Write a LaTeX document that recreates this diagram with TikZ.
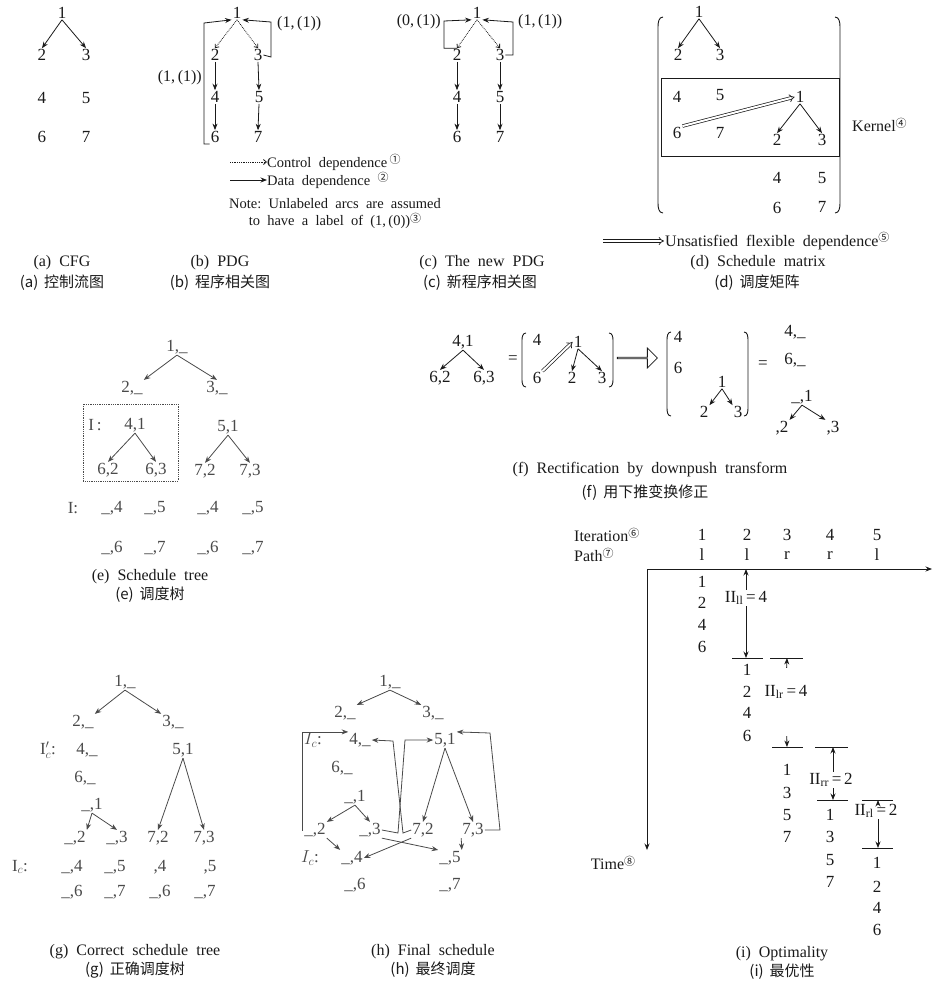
\documentclass[tikz,border=0pt]{standalone}
\usepackage{fontspec}
\setmainfont{Liberation Serif}
\newfontfamily\cjk{Noto Sans CJK SC}
\usepackage{tikz}
\usetikzlibrary{arrows.meta, positioning, shapes.arrows, calc}
\definecolor{ink}{HTML}{1A1A1A}
\definecolor{greyink}{HTML}{4A4A4A}
\newcommand{\cnum}[1]{\raisebox{0.6ex}{\fontsize{11}{11}\selectfont\cjk #1}}

\begin{document}
\begin{tikzpicture}[
    x=1pt, y=-1pt,
    num/.style={
        font=\fontsize{17}{19}\selectfont, text=ink, inner sep=1pt
    },
    gnum/.style={
        num, text=greyink
    },
    txt/.style={
        font=\fontsize{16}{18}\selectfont, text=ink, inner sep=1pt, align=center
    },
    legtxt/.style={
        font=\fontsize{14.5}{16}\selectfont, text=ink, inner sep=0pt, align=center
    },
    captxt/.style={
        font=\fontsize{16}{18}\selectfont, text=ink, inner sep=1pt
    },
    capzh/.style={
        font=\fontsize{15}{18}\selectfont\cjk, text=ink, inner sep=1pt
    },
    dep/.style={
        -{Stealth[length=6.5pt, width=5pt]}, line width=0.8pt, draw=ink
    },
    gdep/.style={
        dep, draw=greyink
    },
    ctl/.style={
        -{Straight Barb[length=3pt, width=5pt]}, densely dotted, line width=0.8pt, draw=ink
    },
    flex/.style={
        double=white, double distance=2pt, line width=0.7pt, draw=ink, -{Implies}
    },
    brk/.style={
        draw=ink, line width=0.9pt
    },
    startbar/.style={
        draw=ink, line width=1pt
    }
]
\fill[white] (0,0) rectangle (936,994);
\useasboundingbox (0,0) rectangle (936,994);

% (a) CFG
\node[num] (a1) at (62,13) {1};
\node[num] (a2) at (42,55) {2};
\node[num] (a3) at (86,55) {3};
\node[num] (a4) at (42,98) {4};
\node[num] (a5) at (86,98) {5};
\node[num] (a6) at (42,137) {6};
\node[num] (a7) at (86,137) {7};
\draw[dep] (a1.south) -- (a2.north);
\draw[dep] (a1.south) -- (a3.north);

% (b) PDG
\node[num] (b1) at (237,13) {1};
\node[num] (b2) at (215,55) {2};
\node[num] (b3) at (258,55) {3};
\node[num] (b4) at (215,97) {4};
\node[num] (b5) at (259,97) {5};
\node[num] (b6) at (215,137) {6};
\node[num] (b7) at (258,137) {7};
\draw[ctl] (b1.south) -- (b2.north);
\draw[ctl] (b1.south) -- (b3.north);
\draw[dep] (b2.south) -- (b4.north);
\draw[dep] (b4.south) -- (b6.north);
\draw[dep] (b3.south) -- (b5.north);
\draw[dep] (b5.south) -- (b7.north);
\draw[dep] (b6.south west) -- (204,144) -- (204,23) -- (b1.south west);
\draw[dep] (b3.east) -- (271,57) -- (271,22) -- (b1.south east);
\node[txt, anchor=east] (bloopl) at (203,78) {(1,\,(1))};
\node[txt, anchor=west] (bloopr) at (276,24) {(1,\,(1))};

% legend
\coordinate (lctl0) at (230,162);
\coordinate (ldat0) at (230,180);
\node[legtxt, anchor=west] (lctl) at (267,162) {Control\enspace dependence\,\cnum{①}};
\node[legtxt, anchor=west] (ldat) at (267,180) {Data\enspace dependence\enspace\cnum{②}};
\draw[ctl] (lctl0) -- (lctl.west);
\draw[dep] (ldat0) -- (ldat.west);
\node[legtxt, font=\fontsize{14.5}{17}\selectfont] (note) at (335,214) {Note:\enspace Unlabeled\enspace arcs\enspace are\enspace assumed\\to\enspace have\enspace a\enspace label\enspace of\enspace (1,\,(0))\cnum{③}};

% (c) new PDG
\node[num] (c1) at (477,13) {1};
\node[num] (c2) at (457,55) {2};
\node[num] (c3) at (500,55) {3};
\node[num] (c4) at (457,97) {4};
\node[num] (c5) at (500,97) {5};
\node[num] (c6) at (457,137) {6};
\node[num] (c7) at (500,137) {7};
\draw[ctl] (c1.south) -- (c2.north);
\draw[ctl] (c1.south) -- (c3.north);
\draw[dep] (c2.south) -- (c4.north);
\draw[dep] (c4.south) -- (c6.north);
\draw[dep] (c3.south) -- (c5.north);
\draw[dep] (c5.south) -- (c7.north);
\draw[dep] (c2.north) -| (444,21) -- (c1.south west);
\draw[dep] (c3.east) -| (513,22) -- (c1.south east);
\node[txt, anchor=east] (cloopl) at (442,22) {(0,\,(1))};
\node[txt, anchor=west] (cloopr) at (517,22) {(1,\,(1))};

% (d) schedule matrix
\draw[brk] (663,17) to[out=180, in=90] (658,27) -- (658,203) to[out=-90, in=180] (663,213);
\draw[brk] (835,17) to[out=0, in=90] (840,27) -- (840,203) to[out=-90, in=0] (835,213);
\node[num] (d1) at (699,12) {1};
\node[num] (d2) at (678,55) {2};
\node[num] (d3) at (720,55) {3};
\draw[dep] (d1.south) -- (d2.north);
\draw[dep] (d1.south) -- (d3.north);
\node[draw=ink, line width=0.9pt, minimum width=178pt, minimum height=78pt, inner sep=0pt] (kernel) at (750,117) {};
\node[txt, anchor=west] (kernellbl) at (851,125) {Kernel\cnum{④}};
\node[num] (d4) at (677,97) {4};
\node[num] (d5) at (720,95) {5};
\node[num] (d6) at (677,133) {6};
\node[num] (d7) at (720,133) {7};
\node[num] (dk1) at (800,97) {1};
\node[num] (dk2) at (777,140) {2};
\node[num] (dk3) at (822,140) {3};
\draw[dep] (dk1.south) -- (dk2.north);
\draw[dep] (dk1.south) -- (dk3.north);
\draw[flex] (d6.north east) -- (dk1.west);
\node[num] (dl4) at (777,178) {4};
\node[num] (dl5) at (822,178) {5};
\node[num] (dl6) at (777,208) {6};
\node[num] (dl7) at (822,207) {7};
\coordinate (lflex0) at (603,241);
\node[txt, anchor=west] (lflex) at (664,241) {Unsatisfied\enspace flexible\enspace dependence\cnum{⑤}};
\draw[flex] (lflex0) -- (lflex.west);

% captions, first row
\node[captxt] (capa) at (62,263) {(a)\enspace CFG};
\node[capzh] (capazh) at (62,283) {(a)\, 控制流图};
\node[captxt] (capb) at (220,263) {(b)\enspace PDG};
\node[capzh] (capbzh) at (220,283) {(b)\, 程序相关图};
\node[captxt] (capc) at (482,263) {(c)\enspace The\enspace new\enspace PDG};
\node[capzh] (capczh) at (480,283) {(c)\, 新程序相关图};
\node[captxt] (capd) at (758,263) {(d)\enspace Schedule\enspace matrix};
\node[capzh] (capdzh) at (757,283) {(d)\, 调度矩阵};

% (e) schedule tree
\node[gnum] (e1) at (177,347) {1,\_};
\node[gnum] (e2) at (132,388) {2,\_};
\node[gnum] (e3) at (217,388) {3,\_};
\draw[greyink, densely dotted, line width=0.8pt] (83,404) rectangle (178,481);
\node[gnum] (eI) at (95,425) {I\,:};
\node[gnum] (e41) at (135,425) {4,1};
\node[gnum] (e51) at (228,427) {5,1};
\node[gnum] (e62) at (108,470) {6,2};
\node[gnum] (e63) at (156,470) {6,3};
\node[gnum] (e72) at (205,471) {7,2};
\node[gnum] (e73) at (250,471) {7,3};
\draw[gdep] (e1.south) -- (e2.north east);
\draw[gdep] (e1.south) -- (e3.north);
\draw[gdep] (e41.south) -- (e62.north);
\draw[gdep] (e41.south) -- (e63.north);
\draw[gdep] (e51.south) -- (e72.north);
\draw[gdep] (e51.south) -- (e73.north);
\node[gnum] (eIrow) at (73,508) {I:};
\node[gnum] (e4a) at (112,508) {\_,4};
\node[gnum] (e5a) at (155,508) {\_,5};
\node[gnum] (e4b) at (208,508) {\_,4};
\node[gnum] (e5b) at (253,508) {\_,5};
\node[gnum] (e6a) at (112,548) {\_,6};
\node[gnum] (e7a) at (155,548) {\_,7};
\node[gnum] (e6b) at (208,548) {\_,6};
\node[gnum] (e7b) at (253,548) {\_,7};
\node[captxt] (cape) at (150,577) {(e)\enspace Schedule\enspace tree};
\node[capzh] (capezh) at (150,595) {(e)\, 调度树};

% (f) downpush
\node[num] (f41) at (463,342) {4,1};
\node[num] (f62) at (440,378) {6,2};
\node[num] (f63) at (484,378) {6,3};
\draw[dep] (f41.south) -- (f62.north);
\draw[dep] (f41.south) -- (f63.north);
\node[num] (feq1) at (513,360) {=};
\draw[brk] (526,333) to[out=180, in=90] (522,340) -- (522,380) to[out=-90, in=180] (526,387);
\draw[brk] (609,333) to[out=0, in=90] (613,340) -- (613,380) to[out=-90, in=0] (609,387);
\node[num] (fm4) at (537,340) {4};
\node[num] (fm1) at (578,342) {1};
\node[num] (fm6) at (537,378) {6};
\node[num] (fm2) at (572,378) {2};
\node[num] (fm3) at (602,378) {3};
\draw[dep] (fm1.south) -- (fm2.north);
\draw[dep] (fm1.south) -- (fm3.north);
\draw[flex] (fm6.north east) -- (fm1.west);
\node[single arrow, draw=ink, line width=0.8pt, minimum width=20pt, minimum height=40pt,
      single arrow head extend=5pt, inner sep=0pt] (push) at (637,358) {};
\draw[brk] (671,332) to[out=180, in=90] (667,340) -- (667,408) to[out=-90, in=180] (671,416);
\draw[brk] (744,332) to[out=0, in=90] (748,340) -- (748,408) to[out=-90, in=0] (744,416);
\node[num] (fn4) at (678,337) {4};
\node[num] (fn6) at (678,368) {6};
\node[num] (fn1) at (722,382) {1};
\node[num] (fn2) at (704,412) {2};
\node[num] (fn3) at (738,412) {3};
\draw[dep] (fn1.south) -- (fn2.north east);
\draw[dep] (fn1.south) -- (fn3.north west);
\node[num] (feq2) at (763,365) {=};
\node[num] (fr4) at (795,332) {4,\_};
\node[num] (fr6) at (795,360) {6,\_};
\node[num] (fr1) at (802,397) {\_,1};
\node[num] (fr2) at (782,428) {,2};
\node[num] (fr3) at (833,428) {,3};
\draw[dep] (fr1.south) -- (fr2.north east);
\draw[dep] (fr1.south) -- (fr3.north west);
\node[captxt] (capf) at (650,470) {(f)\enspace Rectification\enspace by\enspace downpush\enspace transform};
\node[capzh] (capfzh) at (645,493) {(f)\, 用下推变换修正};

% (i) optimality
\node[txt, anchor=west] (iter) at (573,535) {Iteration\cnum{⑥}};
\node[txt, anchor=west] (path) at (573,555) {Path\cnum{⑦}};
\node[num] (it1) at (702,535) {1};
\node[num] (it2) at (747,535) {2};
\node[num] (it3) at (787,535) {3};
\node[num] (it4) at (830,535) {4};
\node[num] (it5) at (877,535) {5};
\node[num] (pt1) at (702,555) {l};
\node[num] (pt2) at (747,555) {l};
\node[num] (pt3) at (787,555) {r};
\node[num] (pt4) at (830,555) {r};
\node[num] (pt5) at (877,555) {l};
\coordinate (orig) at (647,569);
\coordinate (xend) at (932,569);
\coordinate (yend) at (647,850);
\draw[dep] (orig) -- (xend);
\draw[dep] (orig) -- (yend);
\node[txt] (time) at (613,863) {Time\cnum{⑧}};
% iteration 1
\node[num] (i11) at (702,582) {1};
\node[num] (i12) at (702,603) {2};
\node[num] (i14) at (702,625) {4};
\node[num] (i16) at (702,647) {6};
% iteration 2
\node[num] (i21) at (747,670) {1};
\node[num] (i22) at (747,692) {2};
\node[num] (i24) at (747,713) {4};
\node[num] (i26) at (747,736) {6};
% iteration 3
\node[num] (i31) at (787,770) {1};
\node[num] (i33) at (787,793) {3};
\node[num] (i35) at (787,815) {5};
\node[num] (i37) at (787,837) {7};
% iteration 4
\node[num] (i41) at (830,815) {1};
\node[num] (i43) at (830,837) {3};
\node[num] (i45) at (830,860) {5};
\node[num] (i47) at (830,882) {7};
% iteration 5
\node[num] (i51) at (877,863) {1};
\node[num] (i52) at (877,887) {2};
\node[num] (i54) at (877,908) {4};
\node[num] (i56) at (877,930) {6};
% start lines
\draw[startbar] (732,658) -- (763,658);
\draw[startbar] (770,658) -- (803,658);
\draw[startbar] (772,747) -- (803,747);
\draw[startbar] (815,747) -- (848,747);
\draw[startbar] (817,800) -- (848,800);
\draw[startbar] (862,800) -- (893,800);
\draw[startbar] (862,848) -- (893,848);
\coordinate (s1) at (746,658);
\coordinate (s2) at (787,658);
\coordinate (s3) at (787,747);
\coordinate (s4) at (833,747);
\coordinate (s5) at (833,800);
\coordinate (s6) at (878,800);
\coordinate (s7) at (878,848);
\node[num] (iill) at (746,598) {II$_{\mathrm{ll}}$\,=\,4};
\node[num] (iilr) at (786,692) {II$_{\mathrm{lr}}$\,=\,4};
\node[num] (iirr) at (831,780) {II$_{\mathrm{rr}}$\,=\,2};
\node[num] (iirl) at (876,811) {II$_{\mathrm{rl}}$\,=\,2};
\draw[dep] (iill.north) -- (iill.north |- orig);
\draw[dep] (iill.south) -- (s1);
\draw[dep, shorten <=16pt] (iilr.north) -- (s2);
\draw[dep, shorten <=36pt] (iilr.south) -- (s3);
\draw[dep] (iirr.north -| s4) -- (s4);
\draw[dep] (iirr.south -| s5) -- (s5);
\draw[dep] (iirl.north -| s6) -- (s6);
\draw[dep] (iirl.south -| s7) -- (s7);
\node[captxt] (capi) at (782,954) {(i)\enspace Optimality};
\node[capzh] (capizh) at (782,972) {(i)\, 最优性};

% (g) correct schedule tree
\node[gnum] (g1) at (125,682) {1,\_};
\node[gnum] (g2) at (83,722) {2,\_};
\node[gnum] (g3) at (173,722) {3,\_};
\node[gnum] (gIp) at (48,750) {I$'_{c}$:};
\node[gnum] (g4) at (87,750) {4,\_};
\node[gnum] (g51) at (183,750) {5,1};
\node[gnum] (g6) at (85,778) {6,\_};
\node[gnum] (g1b) at (92,805) {\_,1};
\node[gnum] (g2b) at (75,838) {\_,2};
\node[gnum] (g3b) at (117,838) {\_,3};
\node[gnum] (g72) at (158,838) {7,2};
\node[gnum] (g73) at (204,838) {7,3};
\draw[gdep] (g1.south) -- (g2.north east);
\draw[gdep] (g1.south) -- (g3.north west);
\draw[gdep] (g1b.south) -- (g2b.north east);
\draw[gdep] (g1b.south) -- (g3b.north);
\draw[gdep] (g51.south) -- (g72.north);
\draw[gdep] (g51.south) -- (g73.north);
\node[gnum] (gIc) at (20,867) {I$_{c}$:};
\node[gnum] (g4b) at (72,867) {\_,4};
\node[gnum] (g5b) at (115,867) {\_,5};
\node[gnum] (g4c) at (160,867) {,4};
\node[gnum] (g5c) at (210,867) {,5};
\node[gnum] (g6b) at (72,892) {\_,6};
\node[gnum] (g7b) at (115,892) {\_,7};
\node[gnum] (g6c) at (160,892) {\_,6};
\node[gnum] (g7c) at (205,892) {\_,7};
\node[captxt] (capg) at (135,952) {(g)\enspace Correct\enspace schedule\enspace tree};
\node[capzh] (capgzh) at (135,970) {(g)\, 正确调度树};

% (h) final schedule
\node[gnum] (h1) at (390,682) {1,\_};
\node[gnum] (h2) at (345,713) {2,\_};
\node[gnum] (h3) at (433,713) {3,\_};
\node[gnum] (hIc) at (313,740) {$I_{c}$:};
\node[gnum] (h4) at (360,740) {4,\_};
\node[gnum] (h51) at (445,740) {5,1};
\node[gnum] (h6) at (342,768) {6,\_};
\node[gnum] (h1b) at (355,797) {\_,1};
\node[gnum] (h2b) at (315,830) {\_,2};
\node[gnum] (h3b) at (370,830) {\_,3};
\node[gnum] (h72) at (423,830) {7,2};
\node[gnum] (h73) at (473,830) {7,3};
\node[gnum] (hIc2) at (310,858) {$I_{c}$:};
\node[gnum] (h4b) at (352,858) {\_,4};
\node[gnum] (h5b) at (450,858) {\_,5};
\node[gnum] (h6b) at (355,885) {\_,6};
\node[gnum] (h7b) at (450,885) {\_,7};
\draw[gdep] (h1.south) -- (h2.north east);
\draw[gdep] (h1.south) -- (h3.north west);
\draw[gdep] (h1b.south) -- (h2b.north east);
\draw[gdep] (h1b.south) -- (h3b.north);
\draw[gdep] (h51.south) -- (h72.north);
\draw[gdep] (h51.south) -- (h73.north);
\draw[gdep] (h2b.west) -- (302,830) |- (h4.north west);
\draw[gdep] (h72.west) -- (403,833) -- (393,741) -- (h4.east);
\draw[gdep] (h3b.east) -- (398,833) -- (405,740) -- (h51.west);
\draw[gdep] (h73.east) -- (500,830) -- (490,733) -- (h51.north east);
\draw[gdep] (h2b.south east) -- (h4b.north west);
\draw[gdep] (h3b.south east) -- (h5b.north west);
\draw[gdep] (h72.south west) -- (h4b.east);
\draw[gdep] (h73.south west) -- (h5b.north east);
\node[captxt] (caph) at (433,952) {(h)\enspace Final\enspace schedule};
\node[capzh] (caphzh) at (433,970) {(h)\, 最终调度};

\end{tikzpicture}
\end{document}
